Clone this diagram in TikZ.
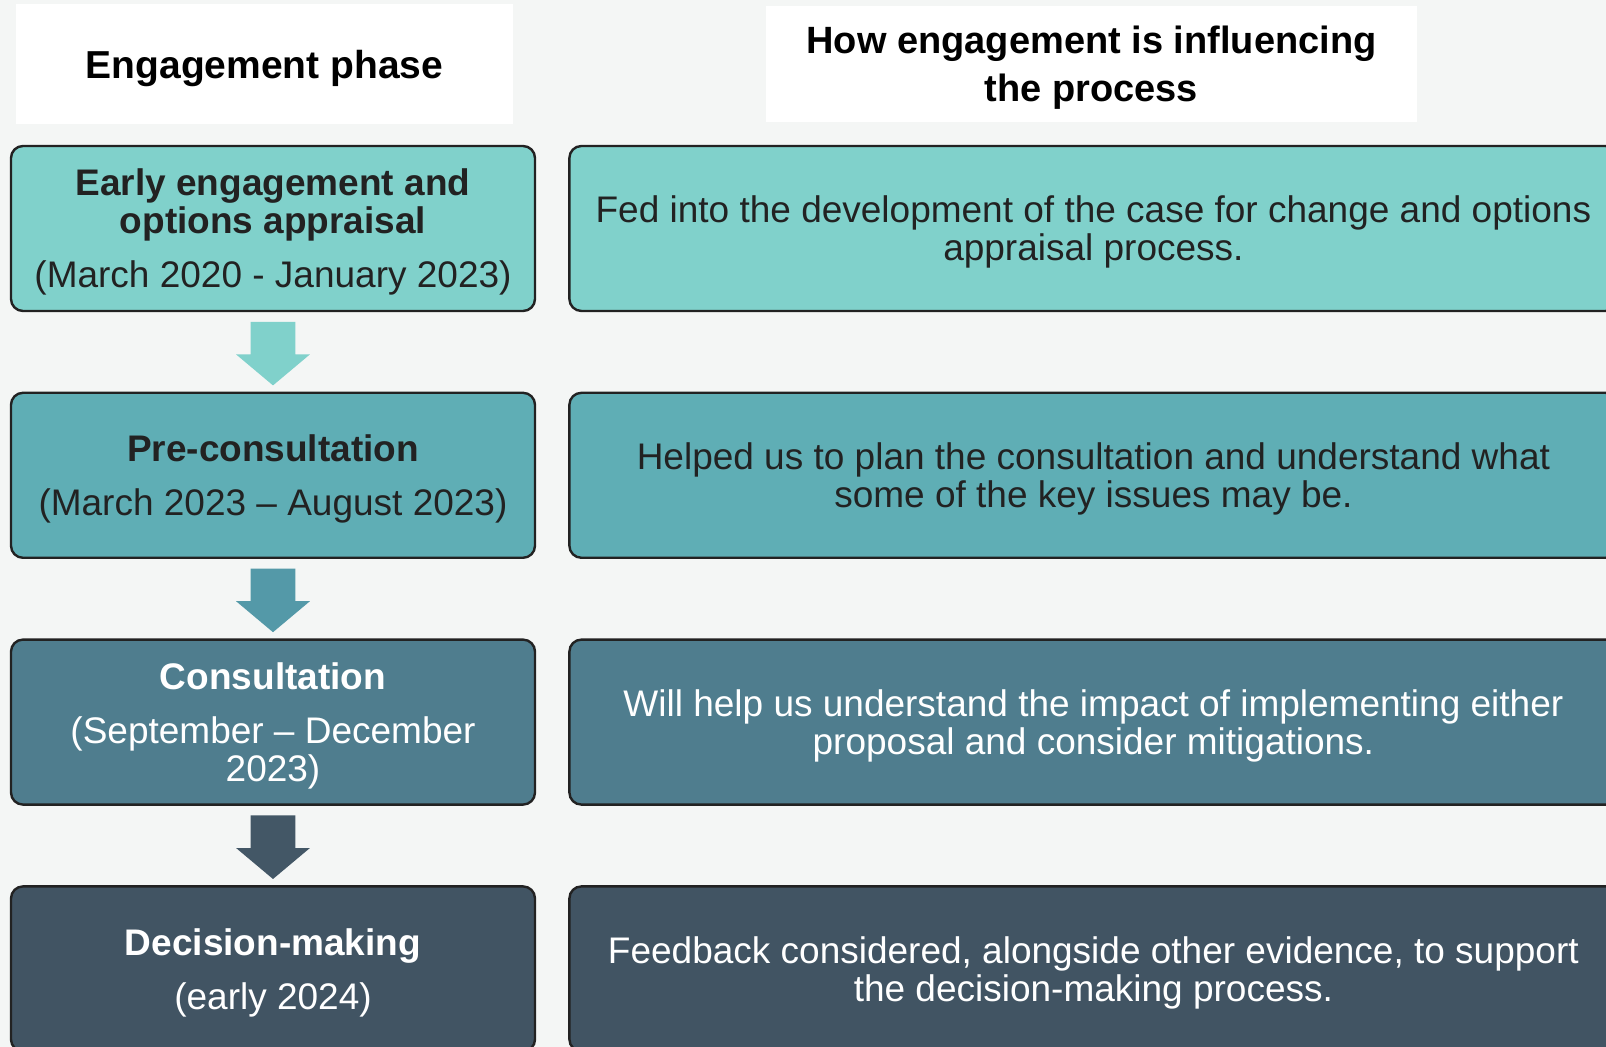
\documentclass[tikz,border=0pt]{standalone}
\usepackage{fontspec}
\setmainfont{Liberation Sans}
\usetikzlibrary{positioning,shapes.arrows,calc}
\definecolor{bg}{HTML}{F4F6F5}
\definecolor{tealone}{HTML}{80D1CB}
\definecolor{tealtwo}{HTML}{5FAEB5}
\definecolor{tealthree}{HTML}{4F7D8E}
\definecolor{slate}{HTML}{415463}
\definecolor{arrowtwo}{HTML}{5499A8}
\definecolor{arrowthree}{HTML}{435766}
\definecolor{ink}{HTML}{222222}
\tikzset{
  head/.style={fill=white, align=center, text=black, inner sep=0pt, text depth=0pt,
    font=\fontsize{19}{24}\selectfont\bfseries},
  box/.style={draw=ink, line width=1.2pt, rounded corners=6pt, minimum height=82.5pt,
    align=center, inner sep=0pt, text depth=0pt, font=\fontsize{18.5}{19}\selectfont},
  phase/.style={box, minimum width=262pt},
  effect/.style={box, minimum width=524pt},
  flowarrow/.style={single arrow, shape border rotate=270, draw=none, inner sep=11pt,
    minimum height=30.5pt, minimum width=36.5pt, single arrow head extend=7.25pt,
    single arrow tip angle=100, anchor=tail}
}
\begin{document}
\begin{tikzpicture}[x=0.5pt, y=-0.5pt, node distance=39.7pt and 16pt]
    \fill [bg] (0,0) rectangle (1606,1047);
    \useasboundingbox (0,0) rectangle (1606,1047);
    % column heads
    \node [head, minimum width=248.5pt, minimum height=60pt, font=\fontsize{19.5}{24}\selectfont\bfseries] (hone) at (264.5,64) {Engagement phase};
    \node [head, minimum width=325.5pt, minimum height=58pt] (htwo) at (1091.5,64) {How engagement is influencing\\the process};
    % phases
    \node [phase, fill=tealone, text=ink] (pone) at (273,228.5)
          {\textbf{Early engagement and}\\\textbf{options appraisal}\\[8pt](March 2020 - January 2023)};
    \node [phase, fill=tealtwo, text=ink, below=of pone] (ptwo)
          {\textbf{Pre-consultation}\\[8pt](March 2023 – August 2023)};
    \node [phase, fill=tealthree, text=white, below=of ptwo] (pthree)
          {\textbf{Consultation}\\[8pt](September – December\\2023)};
    \node [phase, fill=slate, text=white, below=of pthree] (pfour)
          {\textbf{Decision-making}\\[8pt](early 2024)};
    % effects
    \node [effect, fill=tealone, text=ink, right=of pone] (eone)
          {Fed into the development of the case for change and options\\appraisal process.};
    \node [effect, fill=tealtwo, text=ink, right=of ptwo] (etwo)
          {Helped us to plan the consultation and understand what\\some of the key issues may be.};
    \node [effect, fill=tealthree, text=white, right=of pthree] (ethree)
          {Will help us understand the impact of implementing either\\proposal and consider mitigations.};
    \node [effect, fill=slate, text=white, right=of pfour] (efour)
          {Feedback considered, alongside other evidence, to support\\the decision-making process.};
    % arrows between phases
    \node [flowarrow, fill=tealone] (aone) at ($(pone.south)!.5!(ptwo.north)+(0,-30.5)$) {};
    \node [flowarrow, fill=arrowtwo] (atwo) at ($(ptwo.south)!.5!(pthree.north)+(0,-30.5)$) {};
    \node [flowarrow, fill=arrowthree] (athree) at ($(pthree.south)!.5!(pfour.north)+(0,-30.5)$) {};
\end{tikzpicture}
\end{document}
